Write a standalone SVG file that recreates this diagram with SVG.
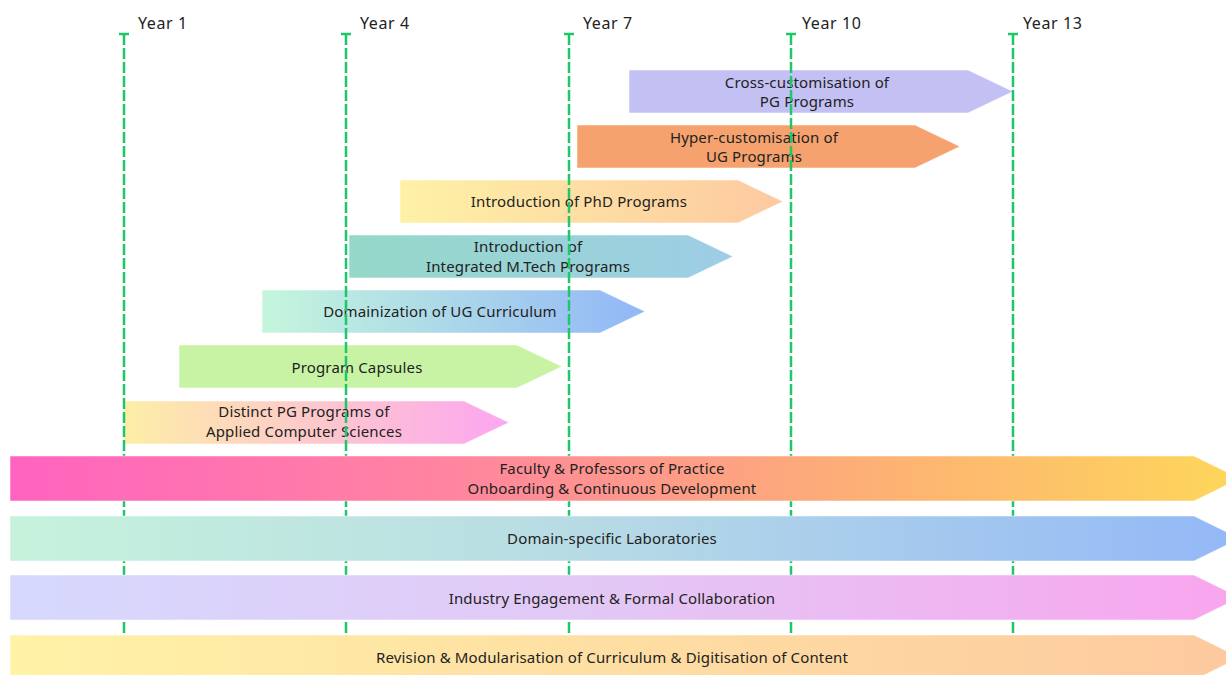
<svg xmlns="http://www.w3.org/2000/svg" width="1226" height="675" viewBox="0 0 1226 675">
<style>
.lbl{font-family:"Noto Sans","Open Sans","Liberation Sans",sans-serif;font-size:15px;letter-spacing:0.15px;fill:#222;text-anchor:middle}
.yr{font-family:"Noto Sans","Open Sans","Liberation Sans",sans-serif;font-size:16px;letter-spacing:0.6px;fill:#222}
.bar{stroke:#ffffff;stroke-opacity:0.5;stroke-width:1}
.vline{stroke:#1ec76a;stroke-width:2.5;stroke-dasharray:11 3;fill:none}
.tick{stroke:#1ec76a;stroke-width:2.5}
</style>
<defs>
<linearGradient id="gPhd"><stop offset="0" stop-color="#fef1a6"/><stop offset="1" stop-color="#fdc9a0"/></linearGradient>
<linearGradient id="gMtech"><stop offset="0" stop-color="#95d9c9"/><stop offset="1" stop-color="#9ecde6"/></linearGradient>
<linearGradient id="gDom"><stop offset="0" stop-color="#c5f6dc"/><stop offset="1" stop-color="#92b7f7"/></linearGradient>
<linearGradient id="gPg"><stop offset="0" stop-color="#fdeea6"/><stop offset="0.5" stop-color="#fdc8cc"/><stop offset="1" stop-color="#fca6f0"/></linearGradient>
<linearGradient id="gFac"><stop offset="0" stop-color="#ff63c0"/><stop offset="0.35" stop-color="#ff84a0"/><stop offset="0.65" stop-color="#fdaa7a"/><stop offset="1" stop-color="#fed75a"/></linearGradient>
<linearGradient id="gLab"><stop offset="0" stop-color="#c6f2dc"/><stop offset="0.45" stop-color="#b8dce4"/><stop offset="1" stop-color="#93b8f7"/></linearGradient>
<linearGradient id="gInd"><stop offset="0" stop-color="#d6d9fd"/><stop offset="0.5" stop-color="#e3c7f5"/><stop offset="1" stop-color="#f9a5ee"/></linearGradient>
<linearGradient id="gRev"><stop offset="0" stop-color="#fff3a7"/><stop offset="1" stop-color="#fdc99f"/></linearGradient>
</defs>
<rect width="1226" height="675" fill="#ffffff"/>

<g id="bar-cross">
<polygon class="bar" points="629,70 968,70 1013,91.5 968,113 629,113" fill="#c3c0f4"/>
<text class="lbl" x="807" y="88">Cross-customisation of</text>
<text class="lbl" x="807" y="107">PG Programs</text>
</g>
<g id="bar-hyper">
<polygon class="bar" points="577,125 915,125 960,146.5 915,168 577,168" fill="#f5a26e"/>
<text class="lbl" x="754" y="143">Hyper-customisation of</text>
<text class="lbl" x="754" y="162">UG Programs</text>
</g>
<g id="bar-phd">
<polygon class="bar" points="400,180 738,180 783,201.5 738,223 400,223" fill="url(#gPhd)"/>
<text class="lbl" x="579" y="207">Introduction of PhD Programs</text>
</g>
<g id="bar-mtech">
<polygon class="bar" points="349,235 688,235 733,256.5 688,278 349,278" fill="url(#gMtech)"/>
<text class="lbl" x="528" y="252">Introduction of</text>
<text class="lbl" x="528" y="272">Integrated M.Tech Programs</text>
</g>
<g id="bar-domain">
<polygon class="bar" points="262,290 600,290 645,311.5 600,333 262,333" fill="url(#gDom)"/>
<text class="lbl" x="440" y="317">Domainization of UG Curriculum</text>
</g>
<g id="bar-capsules">
<polygon class="bar" points="179,345 517,345 562,366.5 517,388 179,388" fill="#c8f3a4"/>
<text class="lbl" x="357" y="373">Program Capsules</text>
</g>
<g id="bar-distinct-pg">
<polygon class="bar" points="124,401 464,401 509,422.5 464,444 124,444" fill="url(#gPg)"/>
<text class="lbl" x="304" y="417">Distinct PG Programs of</text>
<text class="lbl" x="304" y="437">Applied Computer Sciences</text>
</g>

<g id="connectors">
<g id="year-1"><line class="tick" x1="119" y1="34" x2="129" y2="34"/><line class="vline" x1="124" y1="34" x2="124" y2="634"/><text class="yr" x="138" y="29">Year 1</text></g>
<g id="year-4"><line class="tick" x1="341" y1="34" x2="351" y2="34"/><line class="vline" x1="346" y1="34" x2="346" y2="634"/><text class="yr" x="360" y="29">Year 4</text></g>
<g id="year-7"><line class="tick" x1="564" y1="34" x2="574" y2="34"/><line class="vline" x1="569" y1="34" x2="569" y2="634"/><text class="yr" x="583" y="29">Year 7</text></g>
<g id="year-10"><line class="tick" x1="786" y1="34" x2="796" y2="34"/><line class="vline" x1="791" y1="34" x2="791" y2="634"/><text class="yr" x="802" y="29">Year 10</text></g>
<g id="year-13"><line class="tick" x1="1008" y1="34" x2="1018" y2="34"/><line class="vline" x1="1013" y1="34" x2="1013" y2="634"/><text class="yr" x="1023" y="29">Year 13</text></g>
</g>

<g id="bar-faculty">
<polygon class="bar" points="10,456 1194,456 1240,478.5 1194,501 10,501" fill="url(#gFac)"/>
<text class="lbl" x="612" y="474">Faculty &amp; Professors of Practice</text>
<text class="lbl" x="612" y="494">Onboarding &amp; Continuous Development</text>
</g>
<g id="bar-labs">
<polygon class="bar" points="10,516 1194,516 1240,538.5 1194,561 10,561" fill="url(#gLab)"/>
<text class="lbl" x="612" y="544">Domain-specific Laboratories</text>
</g>
<g id="bar-industry">
<polygon class="bar" points="10,575 1194,575 1240,597.5 1194,620 10,620" fill="url(#gInd)"/>
<text class="lbl" x="612" y="604">Industry Engagement &amp; Formal Collaboration</text>
</g>
<g id="bar-revision">
<polygon class="bar" points="10,635 1194,635 1240,657.5 1194,680 10,680" fill="url(#gRev)"/>
<text class="lbl" x="612" y="663">Revision &amp; Modularisation of Curriculum &amp; Digitisation of Content</text>
</g>
</svg>
